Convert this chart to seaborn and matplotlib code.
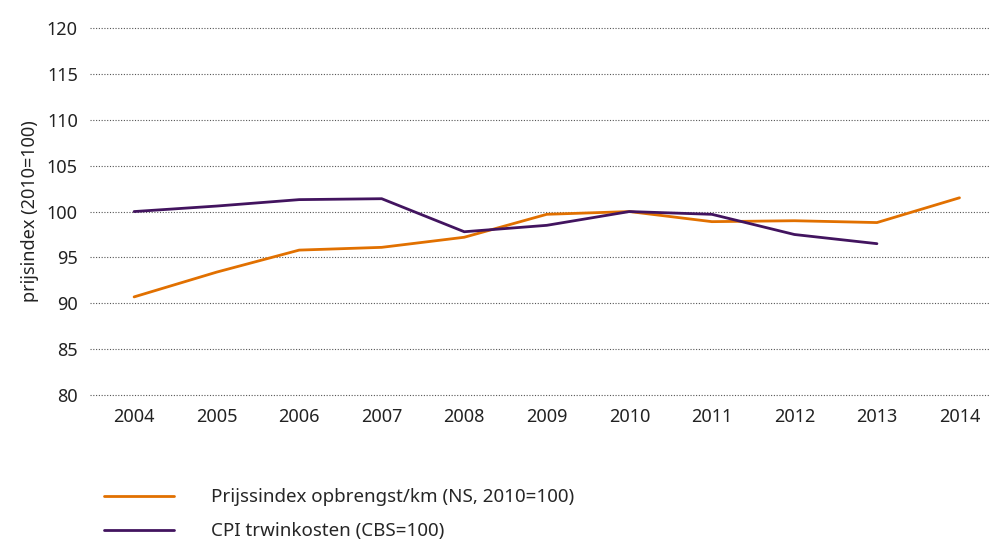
import numpy as np
import pandas as pd
import matplotlib.pyplot as plt
import seaborn as sns

years = [2004, 2005, 2006, 2007, 2008, 2009, 2010, 2011, 2012, 2013, 2014]
ns_index = [90.7, 93.4, 95.8, 96.1, 97.2, 99.7, 100.0, 98.9, 99.0, 98.8, 101.5]
cpi_index = [100.0, 100.6, 101.3, 101.4, 97.8, 98.5, 100.0, 99.7, 97.5, 96.5, np.nan]
series_names = ['Prijssindex opbrengst/km (NS, 2010=100)', 'CPI trwinkosten (CBS=100)']
y_ticks = [80, 85, 90, 95, 100, 105, 110, 115, 120]

df = pd.DataFrame({
    'Jaar': years * 2,
    'Index': ns_index + cpi_index,
    'Reeks': [series_names[0]] * len(years) + [series_names[1]] * len(years),
})

sns.set_style('white')
plt.rcParams['font.family'] = ['Noto Sans', 'DejaVu Sans']

fig = plt.figure(figsize=(9.93, 5.39), dpi=100)
ax = fig.add_axes([0.091, 0.267, 0.906, 0.681])

sns.lineplot(data=df, x='Jaar', y='Index', hue='Reeks',
             palette=['#E17000', '#42145F'], linewidth=2,
             ax=ax, legend=False)

ax.set_ylim(80, 120)
ax.set_xlim(2003.47, 2014.37)
ax.set_yticks(y_ticks)
ax.set_xticks(years)
ax.yaxis.grid(True, linestyle=(0, (1, 1.5)), color='#555555', linewidth=0.8)
ax.xaxis.grid(False)
for line in ax.get_ygridlines():
    line.set_clip_on(False)
for s in ax.spines.values():
    s.set_visible(False)
ax.tick_params(axis='both', length=0, labelsize=13, colors='#222222')
ax.tick_params(axis='y', pad=9)
ax.tick_params(axis='x', pad=9)
ax.set_xlabel('')
ax.set_ylabel('prijsindex (2010=100)', fontsize=13, color='#222222', labelpad=6)

handles = [plt.Line2D([], [], color='#E17000', linewidth=2),
           plt.Line2D([], [], color='#42145F', linewidth=2)]
fig.legend(handles, series_names, loc='upper left', bbox_to_anchor=(0.105, 0.094),
           bbox_transform=fig.transFigure, frameon=False, fontsize=13.5,
           handlelength=3.7, handletextpad=2.0, labelspacing=0.85,
           borderaxespad=0, borderpad=0)

fig.savefig('out.png', dpi=100)
